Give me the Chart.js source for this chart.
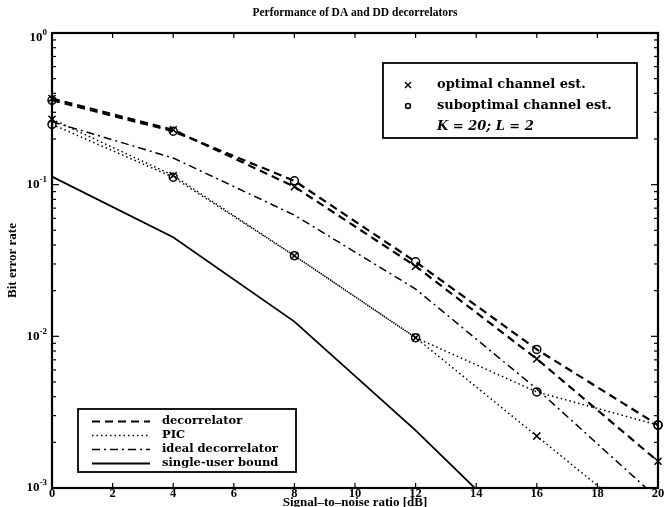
<!DOCTYPE html>
<html>
<head>
<meta charset="utf-8">
<title>Performance of DA and DD decorrelators</title>
<script src="https://cdn.jsdelivr.net/npm/chart.js@4.4.1/dist/chart.umd.min.js"></script>
<style>
  html, body { margin: 0; padding: 0; background: #fff; }
  #wrap { width: 669px; height: 507px; position: relative; }
</style>
</head>
<body>
<div id="wrap"><canvas id="berChart"></canvas></div>
<script>
// SNR points (dB) where the curves were evaluated
const snr = [0, 4, 8, 12, 16, 20];

// Bit error rates
const decOpt     = [0.37, 0.23, 0.097, 0.029, 0.0071, 0.0015];
const decSub     = [0.36, 0.225, 0.106, 0.031, 0.0082, 0.0026];
const picOpt     = [0.27, 0.115, 0.034, 0.0098, 0.0022, 0.00049];
const picSub     = [0.25, 0.112, 0.034, 0.0098, 0.0043, 0.0026];
const idealDec   = [0.26, 0.15, 0.063, 0.0205, 0.0045, 0.00085];
const singleUser = [0.113, 0.045, 0.0125, 0.0024, 0.0004, 0.00006];

// Axis ticks
const xTicks = [0, 2, 4, 6, 8, 10, 12, 14, 16, 18, 20];
const yTicks = [0.001, 0.01, 0.1, 1];
const yTickExp = ['-3', '-2', '-1', '0'];

const SERIF = '"Liberation Serif", "DejaVu Serif", serif';
const WIDE = '"DejaVu Serif", "Liberation Serif", serif';

const DASH = [8, 5];
const DOT = [1.5, 3];
const DASHDOT = [8, 4, 2, 4];

const pts = vals => snr.map((x, i) => ({ x, y: vals[i] }));

function curve(vals, dash, width, marker) {
  return {
    data: pts(vals),
    borderColor: '#000',
    borderWidth: width,
    borderDash: dash,
    tension: 0,
    fill: false,
    pointStyle: marker || 'circle',
    pointRadius: marker ? (marker === 'crossRot' ? 5 : 4) : 0,
    pointBorderWidth: 1.5,
    pointBorderColor: '#000',
    pointBackgroundColor: 'rgba(0,0,0,0)',
    clip: { left: 8, right: 8, top: 0, bottom: 0 }
  };
}

// frame, inside ticks, power-of-ten labels, title and the two legend boxes
const axesBox = {
  id: 'axesBox',
  afterDatasetsDraw(chart) {
    const { ctx, chartArea: a, scales: { x, y } } = chart;
    const seg = (x1, y1, x2, y2) => { ctx.beginPath(); ctx.moveTo(x1, y1); ctx.lineTo(x2, y2); ctx.stroke(); };
    ctx.save();
    ctx.strokeStyle = '#000';
    ctx.lineWidth = 1.2;

    xTicks.forEach(v => {
      const px = x.getPixelForValue(v);
      seg(px, a.bottom, px, a.bottom - 5);
      seg(px, a.top, px, a.top + 5);
    });

    for (let e = -3; e <= 0; e++) {
      for (let m = 1; m <= 9; m++) {
        const v = m * Math.pow(10, e);
        if (v > 1) break;
        const py = y.getPixelForValue(v);
        const len = m === 1 ? 7 : 4;
        seg(a.left, py, a.left + len, py);
        seg(a.right, py, a.right - len, py);
      }
    }

    ctx.lineWidth = 2.2;
    ctx.strokeRect(a.left, a.top, a.right - a.left, a.bottom - a.top);

    ctx.fillStyle = '#000';
    ctx.textBaseline = 'middle';

    // y labels: 10 with a raised exponent
    yTicks.forEach((v, i) => {
      const py = y.getPixelForValue(v) + (i === yTicks.length - 1 ? 5 : 0);
      const exp = yTickExp[i];
      ctx.font = 'bold 9px ' + SERIF;
      const ew = ctx.measureText(exp).width;
      ctx.textAlign = 'left';
      ctx.fillText(exp, 47 - ew, py - 5);
      ctx.font = 'bold 13px ' + SERIF;
      ctx.textAlign = 'right';
      ctx.fillText('10', 47 - ew, py);
    });

    // title
    ctx.font = 'bold 11.5px ' + SERIF;
    ctx.textAlign = 'center';
    ctx.fillText('Performance of DA and DD decorrelators', (a.left + a.right) / 2, 13);

    // marker legend
    ctx.textAlign = 'left';
    ctx.fillStyle = '#fff';
    ctx.fillRect(383, 63, 254, 75);
    ctx.lineWidth = 1.8;
    ctx.strokeRect(383, 63, 254, 75);
    ctx.fillStyle = '#000';
    ctx.lineWidth = 1.5;
    seg(405, 82, 411, 88); seg(405, 88, 411, 82);
    ctx.beginPath(); ctx.arc(408, 106, 2.5, 0, Math.PI * 2); ctx.stroke();
    ctx.font = 'bold 13px ' + WIDE;
    ctx.fillText('optimal channel est.', 437, 85);
    ctx.fillText('suboptimal channel est.', 437, 106);
    ctx.font = 'italic bold 13px ' + WIDE;
    ctx.fillText('K = 20; L = 2', 437, 127);

    // line style legend
    ctx.fillStyle = '#fff';
    ctx.fillRect(78, 409, 218, 63);
    ctx.lineWidth = 1.8;
    ctx.strokeRect(78, 409, 218, 63);
    const rows = [
      ['decorrelator', DASH, 2.2],
      ['PIC', DOT, 1.5],
      ['ideal decorrelator', DASHDOT, 1.5],
      ['single-user bound', [], 1.8]
    ];
    ctx.fillStyle = '#000';
    ctx.font = 'bold 11.5px ' + WIDE;
    rows.forEach((r, i) => {
      const ly = 421.5 + i * 14;
      ctx.setLineDash(r[1]);
      ctx.lineWidth = r[2];
      seg(92, ly, 150, ly);
      ctx.setLineDash([]);
      ctx.fillText(r[0], 162, ly);
    });
    ctx.restore();
  }
};

new Chart(document.getElementById('berChart'), {
  type: 'line',
  data: {
    datasets: [
      curve(decOpt, DASH, 2.2, 'crossRot'),
      curve(decSub, DASH, 2.2, 'circle'),
      curve(picOpt, DOT, 1.5, 'crossRot'),
      curve(picSub, DOT, 1.5, 'circle'),
      curve(idealDec, DASHDOT, 1.5, null),
      curve(singleUser, [], 1.8, null)
    ]
  },
  options: {
    responsive: true,
    maintainAspectRatio: false,
    animation: false,
    layout: { padding: { left: 0, right: 11, top: 33, bottom: 0 } },
    plugins: { legend: { display: false }, tooltip: { enabled: false } },
    scales: {
      x: {
        type: 'linear',
        min: 0,
        max: 20,
        afterFit: s => { s.height = 19; },
        afterBuildTicks: s => { s.ticks = xTicks.map(v => ({ value: v })); },
        grid: { display: false, drawTicks: false },
        border: { display: false },
        ticks: { color: '#000', padding: 0, font: { family: SERIF, weight: 'bold', size: 12.5, lineHeight: 1 }, maxRotation: 0 },
        title: {
          display: true,
          text: 'Signal\u2013to\u2013noise ratio [dB]',
          color: '#000',
          font: { family: SERIF, weight: 'bold', size: 13, lineHeight: 1 },
          padding: { top: 0, bottom: -2 }
        }
      },
      y: {
        type: 'logarithmic',
        min: 0.001,
        max: 1,
        afterFit: s => { s.width = 52; },
        afterBuildTicks: s => { s.ticks = yTicks.map(v => ({ value: v })); },
        grid: { display: false, drawTicks: false },
        border: { display: false },
        ticks: { display: false },
        title: {
          display: true,
          text: 'Bit error rate',
          color: '#000',
          font: { family: SERIF, weight: 'bold', size: 13, lineHeight: 1 },
          padding: { top: 6, bottom: 0 }
        }
      }
    }
  },
  plugins: [axesBox]
});
</script>
</body>
</html>
